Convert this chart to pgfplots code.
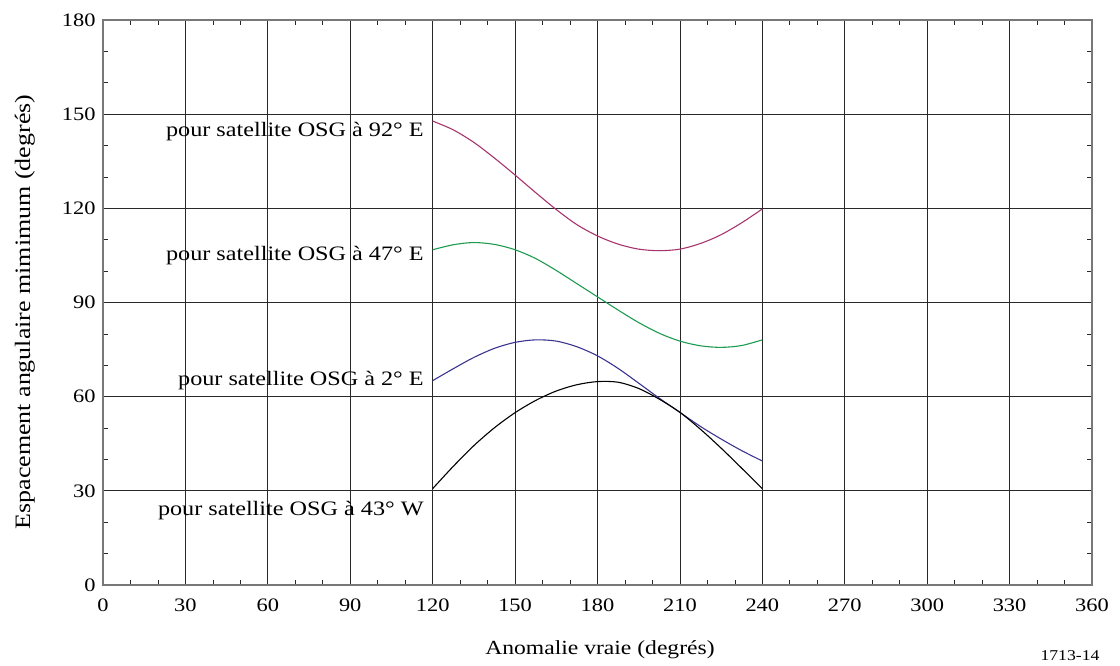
\documentclass[border=0pt]{standalone}
\usepackage{fontspec}
\setmainfont[FakeStretch=1.18]{Liberation Serif}
\usepackage{pgfplots}
\pgfplotsset{compat=1.18}
\definecolor{cmag}{RGB}{168,52,110}
\definecolor{cgreen}{RGB}{30,155,80}
\definecolor{cblue}{RGB}{58,52,145}
\definecolor{cgrid}{RGB}{40,40,40}
\definecolor{cframe}{RGB}{120,120,120}
\begin{document}
\begin{tikzpicture}
\begin{axis}[
  at={(0,0)}, anchor=south west,
  scale only axis, width=989pt, height=565pt,
  xmin=0, xmax=360, ymin=0, ymax=180,
  xtick={0,30,...,360}, ytick={0,30,...,180},
  minor tick num=2,
  tick align=inside,
  major tick length=0pt, minor tick length=5pt,
  grid=major,
  major grid style={cgrid, line width=0.8pt},
  axis line style={cframe, line width=1.3pt},
  minor tick style={cgrid, line width=0.7pt},
  /pgf/number format/assume math mode=true,
  ticklabel style={font=\fontsize{19}{22}\selectfont},
  xticklabel style={yshift=-10pt},
  yticklabel style={xshift=-4pt},
  xlabel={Anomalie vraie (degrés)},
  ylabel={Espacement angulaire mimimum (degrés)},
  xlabel style={font=\fontsize{20}{24}\selectfont, at={(axis description cs:0.5025,-0.115)}, anchor=center},
  ylabel style={font=\fontsize{22}{26}\selectfont, at={(axis description cs:-0.079,0.483)}, anchor=center},
  clip=false,
]
\addplot[cmag, line width=1.1pt, smooth] coordinates {
 (120,147.8) (127.5,145.0) (135,141.0) (142.5,136.0) (150,130.6) (157.5,125.0) (165,119.6) (172.5,114.8) (180,111.2) (187.5,108.6) (195,107.0) (202.5,106.5) (210,107.0) (217.5,108.8) (225,111.6) (232.5,115.4) (240,119.8)};
\addplot[cgreen, line width=1.1pt, smooth] coordinates {
 (120,106.8) (127.5,108.4) (135,109.1) (142.5,108.5) (150,106.8) (157.5,104.0) (165,100.2) (172.5,96.0) (180,91.8) (187.5,87.6) (195,83.6) (202.5,80.2) (210,77.7) (217.5,76.2) (225,75.7) (232.5,76.3) (240,78.1)};
\addplot[cblue, line width=1.1pt, smooth] coordinates {
 (120,65.1) (127.5,68.9) (135,72.5) (142.5,75.4) (150,77.3) (157.5,78.1) (165,77.7) (172.5,75.9) (180,73.0) (187.5,69.0) (195,64.3) (202.5,59.5) (210,55.0) (217.5,50.5) (225,46.5) (232.5,42.8) (240,39.5)};
\addplot[black, line width=1.1pt, smooth] coordinates {
 (120,30.7) (127.5,37.8) (135,44.4) (142.5,50.1) (150,54.9) (157.5,58.8) (165,61.8) (172.5,63.8) (180,64.8) (187.5,64.6) (195,62.6) (202.5,59.2) (210,55.0) (217.5,49.6) (225,43.6) (232.5,37.2) (240,30.7)};
\node[anchor=east, font=\fontsize{20.5}{24}\selectfont] at (axis cs:118,144.3) {pour satellite OSG à 92° E};
\node[anchor=east, font=\fontsize{20.5}{24}\selectfont] at (axis cs:118,105) {pour satellite OSG à 47° E};
\node[anchor=east, font=\fontsize{20.5}{24}\selectfont] at (axis cs:118,65) {pour satellite OSG à 2° E};
\node[anchor=east, font=\fontsize{20.5}{24}\selectfont] at (axis cs:118,23.6) {pour satellite OSG à 43° W};
\end{axis}
\node[font=\fontsize{15}{18}\selectfont] at (967pt,-71pt) {1713-14};
\pgfresetboundingbox
\path (-103pt,-81pt) rectangle (1017pt,585pt);
\end{tikzpicture}
\end{document}
